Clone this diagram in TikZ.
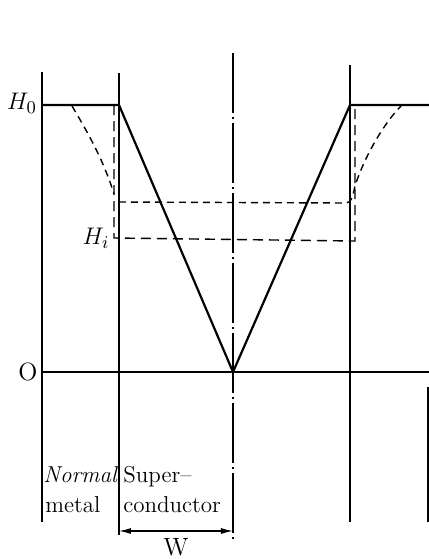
\documentclass[tikz,border=0pt]{standalone}
\usetikzlibrary{arrows.meta}
\begin{document}
\begin{tikzpicture}[x=0.5pt,y=-0.5pt,
  thinline/.style={line width=0.6pt},
  thickline/.style={line width=1.1pt},
  longdash/.style={line width=0.7pt,dash pattern=on 5pt off 3pt},
  shortdash/.style={line width=0.7pt,dash pattern=on 3.5pt off 2.5pt},
  lbl/.style={inner sep=0pt,font=\fontsize{12.5}{14}\selectfont},
  txt/.style={inner sep=0pt,anchor=base west,font=\fontsize{11.5}{14}\selectfont}]
\useasboundingbox (0,0) rectangle (429,559);
% coordinates
\coordinate (axT) at (42,72);   \coordinate (axB) at (42,522);
\coordinate (s1T) at (119,73);  \coordinate (s1B) at (119,535);
\coordinate (cT) at (233,53);   \coordinate (cB) at (233,540);
\coordinate (s2T) at (350,65);  \coordinate (s2B) at (350,522);
\coordinate (frT) at (428,387); \coordinate (frB) at (428,522);
\coordinate (oL) at (42,372);   \coordinate (oR) at (429,372);
\coordinate (h0L) at (42,105);  \coordinate (h0A) at (119,105);
\coordinate (apex) at (233,372);
\coordinate (h0B) at (350,105); \coordinate (h0R) at (429,105);
% verticals
\draw[thinline] (axT) -- (axB);
\draw[thinline] (s1T) -- (s1B);
\draw[thinline] (s2T) -- (s2B);
\draw[thinline] (frT) -- (frB);
\draw[thinline,dash pattern=on 30pt off 2pt on 1pt off 2pt] (cT) -- (cB);
% axis
\draw[thinline] (oL) -- (oR);
% field profile
\draw[thickline] (h0L) -- (h0A) -- (apex) -- (h0B) -- (h0R);
% dashed profiles
\coordinate (lv1) at (114,105); \coordinate (lv2) at (114,238);
\coordinate (rv1) at (355,105); \coordinate (rv2) at (355,241);
\draw[longdash] (lv1) -- (lv2) -- (rv2) -- (rv1);
\coordinate (lc1) at (72,106); \coordinate (lc2) at (114,194);
\draw[shortdash] (lc1) .. controls (85,128) and (103,158) .. (lc2);
\coordinate (u1) at (119,202); \coordinate (u2) at (346,203);
\coordinate (rc1) at (355,186); \coordinate (rc2) at (401,106);
\draw[shortdash] (u1) -- (u2) .. controls (352,203) and (353,195) .. (rc1)
  .. controls (365,155) and (385,122) .. (rc2);
% labels
\node[lbl] (H0) at (22,103) {$H_0$};
\node[lbl] (Hi) at (96,238) {$H_i$};
\node[lbl] (O) at (28,372) {O};
\node[txt] (nm1) at (43,482) {\itshape Normal};
\node[txt] (nm2) at (45,512) {metal};
\node[txt] (sc1) at (123,482) {Super--};
\node[txt] (sc2) at (123,512) {conductor};
% W dimension
\draw[thinline,{Latex[length=6pt,width=3pt]}-{Latex[length=6pt,width=3pt]}] (s1B |- 0,531) -- (cB |- 0,531);
\node[lbl] (W) at (176,547) {W};
\end{tikzpicture}
\end{document}
